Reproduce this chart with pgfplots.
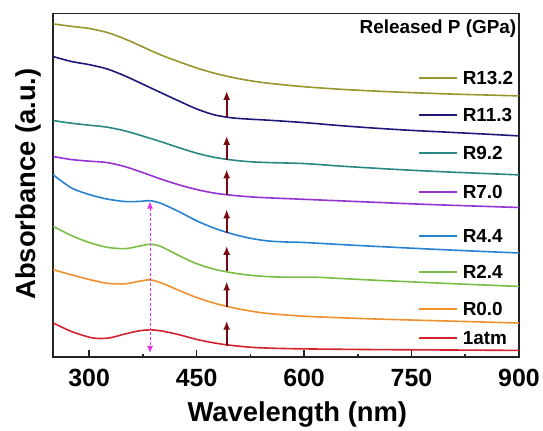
\documentclass[border=0pt]{standalone}
\usepackage{fontspec}
\setmainfont{Liberation Sans}
\usepackage{pgfplots}
\pgfplotsset{compat=1.18}
\usetikzlibrary{arrows.meta}

\definecolor{axgray}{RGB}{35,35,35}
\definecolor{colR132}{RGB}{150,150,45}
\definecolor{colR113}{RGB}{30,25,120}
\definecolor{colR92}{RGB}{40,135,130}
\definecolor{colR70}{RGB}{150,50,210}
\definecolor{colR44}{RGB}{40,130,210}
\definecolor{colR24}{RGB}{120,190,70}
\definecolor{colR00}{RGB}{240,145,45}
\definecolor{colatm}{RGB}{210,35,45}
\definecolor{arrred}{RGB}{120,10,20}
\definecolor{pinkarr}{RGB}{230,50,230}

\newcommand{\legfont}{\fontsize{19}{22}\selectfont\bfseries}
\tikzset{legline/.style={line width=1.7bp, line cap=butt},
         uparr/.style={arrred, line width=1.8bp, -{Latex[length=9bp,width=7bp]}}}

\begin{document}
\begin{tikzpicture}
\begin{axis}[
    width=466bp, height=344bp, scale only axis,
    xmin=250, xmax=900, ymin=0, ymax=344,
    xtick={300,450,600,750,900},
    minor x tick num=1,
    ytick=\empty,
    xtick pos=bottom,
    tick align=inside,
    major tick length=7bp, minor tick length=3.5bp,
    every tick/.append style={line width=1.5bp, color=axgray},
    axis line style={line width=1.8bp, color=axgray},
    /pgf/number format/assume math mode=true,
    xticklabel style={font=\fontsize{25}{30}\selectfont\bfseries, anchor=base, yshift=-29bp},
    xlabel={Wavelength (nm)},
    ylabel={Absorbance (a.u.)},
    xlabel style={font=\fontsize{27.5}{32}\selectfont\bfseries,
        at={(axis description cs:0.524,-0.1866)}, anchor=base},
    ylabel style={font=\fontsize{27.5}{32}\selectfont\bfseries,
        at={(axis description cs:-0.0386,0.504)}, anchor=base},
    clip=false,
    every axis plot/.append style={line width=1.6bp, smooth, tension=0.5, no markers},
]

% R13.2
\addplot[colR132] coordinates {
 (250,333.5) (275,331.2) (300,329) (325,325) (350,318.5) (375,310.5) (400,302.5)
 (425,295.8) (450,289.5) (475,284.2) (500,280) (525,276.7) (550,274.2) (600,270.7)
 (650,268.2) (700,266.3) (750,264.8) (800,263.5) (850,262.5) (900,261.5)};
% R11.3
\addplot[colR113] coordinates {
 (250,300.8) (275,296) (300,292.8) (325,288.5) (350,281.5) (375,273.2) (400,264.8)
 (425,256.5) (450,248.5) (475,242.5) (500,239.5) (525,238.2) (550,237.2) (600,234.8)
 (650,231.8) (700,229.2) (750,227) (800,225.2) (850,223.4) (900,221.5)};
% R9.2
\addplot[colR92] coordinates {
 (250,236.8) (275,234.2) (300,232.2) (325,230.2) (350,226.5) (375,221.3) (400,215.7)
 (425,209.8) (450,204.2) (475,200) (500,197.3) (525,195.6) (550,194.8) (600,193.8)
 (650,191.3) (700,189.1) (750,187.1) (800,185.4) (850,183.9) (900,182.5)};
% R7.0
\addplot[colR70] coordinates {
 (250,200.8) (275,197.8) (300,196.2) (325,194.8) (350,190.7) (375,184.7) (400,178.3)
 (425,172.6) (450,167.8) (475,164.2) (500,162) (525,160.5) (550,159.5) (600,158)
 (650,156.5) (700,155) (750,153.5) (800,152.2) (850,151) (900,149.8)};
% R4.4
\addplot[colR44] coordinates {
 (250,182.5) (275,169.5) (300,162.8) (325,158.3) (350,155.8) (370,155.9) (385,156.6)
 (400,154) (425,145.8) (450,136.5) (475,129) (500,123.3) (525,119) (550,116.3)
 (575,115.3) (600,114.8) (650,112.8) (700,110.9) (750,109.1) (800,107.4) (850,105.8) (900,104.3)};
% R2.4
\addplot[colR24] coordinates {
 (250,130.8) (275,121.8) (300,114.8) (325,110) (350,108.6) (370,111.2) (385,113)
 (400,110.8) (425,101.8) (450,93.6) (475,88) (500,84.4) (525,82) (550,80.6)
 (575,80.1) (600,80.2) (625,79.8) (650,78.8) (700,77) (750,75.4) (800,73.8) (850,72.3) (900,70.8)};
% R0.0
\addplot[colR00] coordinates {
 (250,87.5) (275,82.5) (300,77.8) (325,74) (350,73.4) (370,76) (385,77.4)
 (400,74.5) (425,67) (450,59.7) (475,54) (500,49.6) (525,46.2) (550,43.7)
 (600,41) (650,39.5) (700,38.2) (750,37.2) (800,36.2) (850,35.2) (900,34.2)};
% 1atm
\addplot[colatm] coordinates {
 (250,34.2) (275,25.8) (300,20) (315,18.7) (330,19.5) (350,23.2) (370,26.4)
 (385,27.3) (400,26.4) (425,22.6) (450,17.8) (475,14.2) (500,11.7) (525,10)
 (550,9.1) (600,8.3) (700,7.6) (800,7.2) (900,6.8)};

% arrows
\draw[uparr] (axis cs:492,240.2) -- (axis cs:492,266.5);
\draw[uparr] (axis cs:492,197.5) -- (axis cs:492,221.5);
\draw[uparr] (axis cs:492,162.5) -- (axis cs:492,188);
\draw[uparr] (axis cs:492,124.2) -- (axis cs:492,148);
\draw[uparr] (axis cs:492,86.5) -- (axis cs:492,111.5);
\draw[uparr] (axis cs:492,49.8) -- (axis cs:492,75.8);
\draw[uparr] (axis cs:492,10.8) -- (axis cs:492,36.5);
\draw[pinkarr, line width=0.9bp, densely dashed, {Latex[length=7bp,width=6bp]}-{Latex[length=7bp,width=6bp]}]
  (axis cs:385,155.8) -- (axis cs:385,4.2);

% legend
\node[anchor=east, inner sep=0, font=\legfont] at (axis cs:896.6,328.5) {Released P (GPa)};
\draw[colR132, legline] (axis cs:761,279.5) -- (axis cs:813,279.5);
\node[anchor=west, inner sep=0, font=\legfont] at (axis cs:821.3,279.5) {R13.2};
\draw[colR113, legline] (axis cs:761,242.5) -- (axis cs:813,242.5);
\node[anchor=west, inner sep=0, font=\legfont] at (axis cs:821.3,242.5) {R11.3};
\draw[colR92, legline] (axis cs:761,204.5) -- (axis cs:813,204.5);
\node[anchor=west, inner sep=0, font=\legfont] at (axis cs:821.3,204.5) {R9.2};
\draw[colR70, legline] (axis cs:761,165.5) -- (axis cs:813,165.5);
\node[anchor=west, inner sep=0, font=\legfont] at (axis cs:821.3,165.5) {R7.0};
\draw[colR44, legline] (axis cs:761,121.5) -- (axis cs:813,121.5);
\node[anchor=west, inner sep=0, font=\legfont] at (axis cs:821.3,121.5) {R4.4};
\draw[colR24, legline] (axis cs:761,85.5) -- (axis cs:813,85.5);
\node[anchor=west, inner sep=0, font=\legfont] at (axis cs:821.3,85.5) {R2.4};
\draw[colR00, legline] (axis cs:761,48.5) -- (axis cs:813,48.5);
\node[anchor=west, inner sep=0, font=\legfont] at (axis cs:821.3,48.5) {R0.0};
\draw[colatm, legline] (axis cs:761,19.5) -- (axis cs:813,19.5);
\node[anchor=west, inner sep=0, font=\legfont] at (axis cs:821.3,19.5) {1atm};
\end{axis}
\path (-53.4bp,-67.5bp) rectangle (489.6bp,357.5bp);
\end{tikzpicture}
\end{document}
